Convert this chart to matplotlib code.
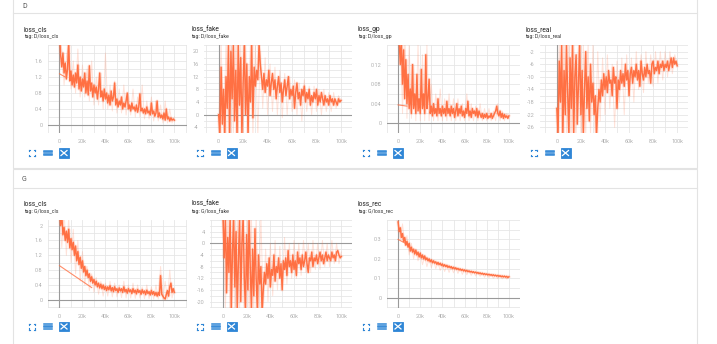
import matplotlib
matplotlib.use("Agg")
import matplotlib.pyplot as plt
from matplotlib.ticker import FixedLocator, MultipleLocator
from matplotlib.patches import Rectangle
from matplotlib.lines import Line2D

plt.rcParams['font.family'] = ['Roboto', 'DejaVu Sans']

# ---------------- data (x = training step, in thousands) ----------------
steps_k = list(range(0, 101))          # smoothed curve, every 1k steps
raw_steps_k = list(range(0, 101, 2))   # faint raw curve, every 2k steps
x_tick_labels = ["0", "20k", "40k", "60k", "80k", "100k"]

d_loss_cls = [2.3, 1.75, 1.45, 1.8, 1.3, 1.55, 1.15, 1.4, 2.1, 1.1,
              1.35, 1.0, 1.25, 0.95, 1.3, 1.05, 1.5, 0.9, 1.2, 0.85,
              1.15, 0.95, 1.3, 0.8, 1.1, 0.75, 1.48, 0.85, 1.05, 0.7,
              1.0, 0.8, 0.95, 0.65, 0.9, 1.3, 0.7, 0.85, 0.6, 0.9,
              0.65, 0.8, 0.55, 0.75, 0.5, 0.85, 0.6, 0.7, 1.05, 0.5,
              0.65, 0.45, 0.6, 0.5, 0.7, 0.4, 0.55, 0.45, 0.6, 0.8,
              0.4, 0.5, 0.35, 0.55, 0.4, 0.45, 0.35, 0.5, 0.32, 0.45,
              0.78, 0.35, 0.42, 0.3, 0.4, 0.28, 0.45, 0.3, 0.35, 0.25,
              0.55, 0.28, 0.35, 0.22, 0.3, 0.6, 0.2, 0.3, 0.18, 0.25,
              0.15, 0.3, 0.12, 0.4, 0.15, 0.2, 0.1, 0.18, 0.12, 0.15, 0.12]
d_loss_cls_raw = [2.2, 1.9, 1.0, 1.7, 2.0, 0.9, 1.6, 0.8, 1.9, 0.7,
                  1.5, 0.7, 1.4, 0.6, 1.6, 0.5, 1.2, 0.5, 1.3, 0.4,
                  1.8, 0.4, 1.0, 0.35, 1.1, 0.3, 0.9, 0.3, 1.0, 0.25,
                  0.8, 0.25, 0.9, 0.2, 0.7, 0.2, 1.0, 0.15, 0.6, 0.15,
                  0.7, 0.1, 0.6, 0.1, 0.5, 0.05, 0.6, 0.05, 0.4, 0.05, 0.2]
d_loss_cls_restart_x = [0, 5]
d_loss_cls_restart_y = [1.28, 1.2]

d_loss_fake = [0, -6.5, 15, -3, 8, -6.5, 12, 2, 22.5, -6.5,
               20, 5, 22.5, -2, 14, -6.5, 22.5, 3, 18, -6.5,
               10, 22.5, 0, 16, -6.5, 12, 4, 22.5, -1, 15,
               9, 14, 11, 22.5, 16, 12, 8, 13, 7, 11,
               9, 14, 6, 10, 13, 8, 11, 5, 9, 12,
               7, 10, 4, 8, 11, 6, 9, 12, 5, 8,
               6, 9, 2, 7, 10, 5, 7, 3, 8, 6,
               9, 4, 7, 5, 8, 3, 6, 4, 7, 5,
               8, 3, 6, 4, 7, 5, 3, 6, 4, 5,
               3, 6, 4, 5, 3, 5, 4, 3, 5, 4, 4.5]
d_loss_fake_raw = [-6.5, 22.5, -6.5, 22.5, -6.5, 22.5, -6.5, 22.5, -6.5, 22.5,
                   -6.5, 22.5, -6.5, 22.5, -6.5, 22.5, -6.5, 20, 2, 18,
                   0, 16, 1, 15, 0, 14, -1, 13, 0, 12,
                   1, 11, 0, 10, -2, 11, 1, 9, 0, 9,
                   1, 8, 0, 8, 1, 7, 1, 7, 2, 6, 4]

d_loss_gp = [0.2, 0.17, 0.12, 0.17, 0.08, 0.15, 0.05, 0.13, 0.04, 0.1,
             0.03, 0.07, 0.02, 0.12, 0.03, 0.06, 0.02, 0.1, 0.025, 0.05,
             0.02, 0.11, 0.03, 0.06, 0.02, 0.14, 0.03, 0.05, 0.09, 0.02,
             0.035, 0.015, 0.04, 0.02, 0.03, 0.015, 0.05, 0.02, 0.03, 0.015,
             0.035, 0.02, 0.03, 0.015, 0.045, 0.02, 0.03, 0.015, 0.035, 0.02,
             0.03, 0.012, 0.025, 0.04, 0.015, 0.03, 0.02, 0.035, 0.015, 0.025,
             0.012, 0.03, 0.02, 0.045, 0.015, 0.025, 0.012, 0.03, 0.02, 0.025,
             0.015, 0.03, 0.012, 0.025, 0.018, 0.012, 0.02, 0.01, 0.018, 0.012,
             0.02, 0.01, 0.015, 0.012, 0.02, 0.01, 0.015, 0.02, 0.025, 0.035,
             0.02, 0.015, 0.025, 0.012, 0.02, 0.01, 0.018, 0.012, 0.015, 0.01, 0.015]
d_loss_gp_raw = [0.2, 0.2, 0.02, 0.2, 0.01, 0.16, 0.01, 0.12, 0.005, 0.16,
                 0.005, 0.14, 0.005, 0.16, 0.005, 0.08, 0.005, 0.06, 0.005, 0.07,
                 0.005, 0.05, 0.005, 0.06, 0.005, 0.05, 0.005, 0.05, 0.005, 0.04,
                 0.005, 0.06, 0.005, 0.04, 0.005, 0.035, 0.005, 0.04, 0.005, 0.03,
                 0.005, 0.03, 0.005, 0.025, 0.005, 0.04, 0.005, 0.025, 0.005, 0.02, 0.01]
d_loss_gp_restart_x = [0, 8]
d_loss_gp_restart_y = [0.0375, 0.035]

d_loss_real = [-20, -28.5, -5, -18, 0.5, -28.5, -8, -22, 0.5, -15,
               -28.5, -4, -20, 0.5, -28.5, -10, -3, -25, -12, 0.5,
               -22, -8, -28.5, -14, -2, -20, -10, -24, -6, -18,
               -12, -22, -16, -28.5, -20, -14, -18, -11, -16, -9,
               -14, -10, -15, -8, -12, -11, -16, -7, -12, -10,
               -20, -11, -14, -8, -12, -9, -13, -6, -11, -8,
               -16, -9, -7, -12, -8, -10, -6, -11, -8, -13,
               -5, -9, -11, -7, -10, -6, -9, -8, -12, -6,
               -5, -9, -7, -8, -5, -9, -6, -7, -5, -8,
               -6, -7, -5, -8, -6, -4, -7, -4, -6, -5, -6.5]
d_loss_real_raw = [-28.5, 0.5, -28.5, 0.5, -28.5, 0.5, -28.5, 0.5, -28.5, 0.5,
                   -28.5, 0.5, -28.5, 0.5, -28.5, 0.5, -28.5, -2, -24, -4,
                   -22, -3, -20, -6, -26, -5, -18, -4, -22, -3,
                   -16, -4, -18, -2, -14, -3, -15, -2, -12, -3,
                   -13, -2, -12, -2, -11, -2, -10, -2, -9, -3, -6]

g_loss_cls = [2.4, 2.0, 2.3, 1.75, 1.95, 1.6, 1.85, 1.55, 1.9, 1.4,
              1.65, 1.35, 1.55, 1.2, 1.45, 1.05, 1.3, 0.95, 1.15, 0.85,
              1.05, 0.75, 0.9, 0.65, 0.8, 0.6, 0.7, 0.5, 0.62, 0.45,
              0.55, 0.4, 0.5, 0.35, 0.45, 0.32, 0.42, 0.3, 0.4, 0.28,
              0.36, 0.25, 0.35, 0.27, 0.38, 0.24, 0.33, 0.22, 0.35, 0.25,
              0.3, 0.2, 0.32, 0.24, 0.3, 0.2, 0.35, 0.22, 0.28, 0.18,
              0.3, 0.22, 0.27, 0.17, 0.3, 0.2, 0.26, 0.16, 0.28, 0.2,
              0.25, 0.15, 0.27, 0.18, 0.24, 0.14, 0.26, 0.17, 0.22, 0.13,
              0.25, 0.15, 0.22, 0.12, 0.2, 0.1, 0.2, 0.12, 0.65, 0.15,
              0.1, 0.05, 0.02, 0.15, 0.25, 0.1, 0.35, 0.45, 0.2, 0.3, 0.2]
g_loss_cls_raw = [2.4, 1.4, 2.4, 1.2, 2.2, 1.0, 1.9, 0.7, 1.6, 0.5,
                  1.3, 0.4, 0.9, 0.25, 0.7, 0.2, 0.6, 0.15, 0.5, 0.1,
                  0.45, 0.1, 0.5, 0.08, 0.45, 0.08, 0.4, 0.06, 0.5, 0.05,
                  0.4, 0.05, 0.45, 0.04, 0.4, 0.05, 0.35, 0.03, 0.4, 0.03,
                  0.35, 0.02, 0.4, 0.02, 0.9, 0.0, 0.5, 0.02, 0.8, 0.05, 0.3]
g_loss_cls_restart_x = [0, 28]
g_loss_cls_restart_y = [0.92, 0.33]

g_loss_fake = [9, -5, 9, -17, 2, -10, 9, -23, -3, 9,
               -15, 4, -23, -6, 9, -20, 0, 9, -12, -23,
               3, -16, 9, -8, -23, -2, -18, 5, -12, -23,
               -4, -14, -8, -23, -16, -10, -14, -7, -12, -5,
               -15, -9, -11, -4, -13, -8, -10, -5, -12, -7,
               -16, -6, -9, -5, -11, -2.5, -8, -6, -10, -4,
               -9, -6, -11, -3, -7, -5, -9, -4, -8, -6,
               -3, -7, -10, -5, -6, -3, -8, -5, -6, -4,
               -7, -5, -3, -6, -4, -7, -5, -3, -6, -4,
               -5, -6, -3, -5, -4, -6, -3, -2.5, -4, -5, -4.5]
g_loss_fake_raw = [9, -23, 9, -23, 9, -23, 9, -23, 9, -23,
                   9, -23, 9, -23, 9, -23, 9, -22, -2, -20,
                   0, -18, 1, -16, -1, -15, 2, -14, 0, -12,
                   1, -12, 0, -11, 1, -10, 0, -10, 1, -9,
                   0, -9, 1, -8, 0, -8, 1, -7, 0, -7, -3]

g_loss_rec = [0.39, 0.34, 0.36, 0.31, 0.33, 0.29, 0.31, 0.27, 0.29, 0.26,
              0.28, 0.24, 0.26, 0.235, 0.25, 0.225, 0.245, 0.22, 0.235, 0.21,
              0.23, 0.205, 0.22, 0.2, 0.215, 0.195, 0.205, 0.19, 0.2, 0.185,
              0.195, 0.18, 0.19, 0.178, 0.185, 0.172, 0.182, 0.17, 0.178, 0.166,
              0.174, 0.162, 0.17, 0.16, 0.167, 0.156, 0.163, 0.154, 0.16, 0.15,
              0.157, 0.148, 0.154, 0.146, 0.151, 0.143, 0.148, 0.141, 0.146, 0.138,
              0.143, 0.136, 0.141, 0.134, 0.138, 0.132, 0.136, 0.13, 0.134, 0.128,
              0.132, 0.126, 0.13, 0.124, 0.128, 0.122, 0.126, 0.12, 0.124, 0.119,
              0.122, 0.117, 0.121, 0.116, 0.119, 0.114, 0.118, 0.113, 0.116, 0.111,
              0.115, 0.11, 0.113, 0.108, 0.112, 0.107, 0.111, 0.106, 0.11, 0.104, 0.108]
g_loss_rec_raw = [0.4, 0.3, 0.38, 0.27, 0.32, 0.22, 0.28, 0.2, 0.25, 0.19,
                  0.23, 0.17, 0.21, 0.16, 0.2, 0.155, 0.19, 0.15, 0.18, 0.14,
                  0.17, 0.135, 0.165, 0.13, 0.16, 0.128, 0.155, 0.125, 0.15, 0.12,
                  0.145, 0.118, 0.14, 0.115, 0.135, 0.112, 0.13, 0.11, 0.128, 0.105,
                  0.125, 0.103, 0.12, 0.1, 0.118, 0.098, 0.116, 0.097, 0.114, 0.096, 0.105]
g_loss_rec_restart_x = [0, 10]
g_loss_rec_restart_y = [0.3, 0.27]

# ---------------- figure ----------------
W, H = 717, 344
fig = plt.figure(figsize=(W / 100, H / 100), dpi=100)
fig.patch.set_facecolor('white')

LINE = '#ff7043'
BLUE = '#2f86d6'
BORDER = '#e3e3e3'


def fx(px):
    return px / W


def fy(py):
    return 1 - py / H


# section cards
for top, hdr, bottom, label in [(-2, 13, 168, 'D'), (169, 188, 360, 'G')]:
    fig.patches.append(Rectangle((fx(13), fy(bottom)), fx(697 - 13), (bottom - top) / H,
                                 transform=fig.transFigure, facecolor='none',
                                 edgecolor=BORDER, linewidth=0.8, zorder=-5))
    fig.lines.append(Line2D([fx(13), fx(697)], [fy(hdr), fy(hdr)], transform=fig.transFigure,
                            color=BORDER, linewidth=0.8, zorder=-5))
    fig.text(fx(22), fy((top + hdr) / 2 + 1), label, fontsize=5, color='#555555',
             va='center', ha='left')


def icons(x0, yc):
    # fullscreen icon (corner brackets)
    s = 3.0
    cx = x0 + 8
    for dx in (-1, 1):
        for dy in (-1, 1):
            xa = cx + dx * s
            ya = yc + dy * s
            fig.lines.append(Line2D([fx(xa), fx(xa - dx * 1.3)], [fy(ya), fy(ya)],
                                    transform=fig.transFigure, color=BLUE, lw=0.8))
            fig.lines.append(Line2D([fx(xa), fx(xa)], [fy(ya), fy(ya - dy * 1.3)],
                                    transform=fig.transFigure, color=BLUE, lw=0.8))
    # list icon
    cx = x0 + 24
    for dy in (-2.4, -0.8, 0.8, 2.4):
        fig.lines.append(Line2D([fx(cx - 4), fx(cx + 4)], [fy(yc + dy), fy(yc + dy)],
                                transform=fig.transFigure, color=BLUE, lw=1.1))
    # fit-domain icon
    cx = x0 + 40
    fig.patches.append(Rectangle((fx(cx - 5), fy(yc + 4.5)), 10 / W, 9 / H,
                                 transform=fig.transFigure, facecolor=BLUE,
                                 edgecolor=BLUE, lw=0.6))
    for a, b in [((-3, -2.5), (3, 2.5)), ((-3, 2.5), (3, -2.5))]:
        fig.lines.append(Line2D([fx(cx + a[0]), fx(cx + b[0])], [fy(yc + a[1]), fy(yc + b[1])],
                                transform=fig.transFigure, color='white', lw=0.9))


def chart(box, ys, raw, xlim, ylim, yticks, yminor, ylabels, restart=None, zero_h=True):
    l, r, t, b = box
    ax = fig.add_axes([fx(l), fy(b), (r - l) / W, (b - t) / H])
    ax.patch.set_alpha(0)
    xs = [k * 1000 for k in steps_k]
    ax.plot([k * 1000 for k in raw_steps_k], raw, color=LINE, lw=0.7, alpha=0.2, zorder=2)
    ax.plot(xs, ys, color=LINE, lw=2.4, alpha=0.15, zorder=2)
    ax.plot(xs, ys, color=LINE, lw=1.05, zorder=3)
    if restart is not None:
        rx, ry = restart
        ax.plot([k * 1000 for k in rx], ry, color=LINE, lw=0.8, alpha=0.8, zorder=3)
    ax.set_xlim(*xlim)
    ax.set_ylim(*ylim)
    ax.xaxis.set_major_locator(FixedLocator([0, 20000, 40000, 60000, 80000, 100000]))
    ax.set_xticklabels(x_tick_labels)
    ax.xaxis.set_minor_locator(MultipleLocator(10000))
    ax.yaxis.set_major_locator(FixedLocator(yticks))
    ax.set_yticklabels(ylabels)
    ax.yaxis.set_minor_locator(MultipleLocator(yminor))
    ax.grid(True, which='both', color='#e6e6e6', lw=0.6, zorder=0)
    ax.set_axisbelow(True)
    if zero_h:
        ax.axhline(0, color='#9a9a9a', lw=0.8, zorder=1)
    ax.axvline(0, color='#9a9a9a', lw=0.8, zorder=1)
    for sp in ax.spines.values():
        sp.set_visible(False)
    ax.tick_params(which='both', length=0, labelsize=4, colors='#b0b0b0')
    ax.tick_params(axis='x', pad=4.5)
    ax.tick_params(axis='y', pad=4.0)
    return ax


def card(x_title, y_title, title, tag, icon_y):
    fig.text(fx(x_title), fy(y_title), title, fontsize=4.8, color='#212121', va='center', ha='left')
    fig.text(fx(x_title), fy(y_title + 7), tag, fontsize=3.8, color='#333333', va='center', ha='left')
    icons(x_title, icon_y)


# D row
chart((48, 187, 45, 133), d_loss_cls, d_loss_cls_raw,
      (-10000, 111000), (-0.2, 2.0), [0, 0.4, 0.8, 1.2, 1.6], 0.2,
      ['0', '0.4', '0.8', '1.2', '1.6'], (d_loss_cls_restart_x, d_loss_cls_restart_y))
card(24, 29.5, 'loss_cls', 'tag: D/loss_cls', 153)

chart((204, 352, 45, 133), d_loss_fake, d_loss_fake_raw,
      (-12000, 109000), (-5.8, 22), [-4, 0, 4, 8, 12, 16, 20], 2,
      ['-4', '0', '4', '8', '12', '16', '20'])
card(191.5, 29.5, 'loss_fake', 'tag: D/loss_fake', 153)

chart((387, 520, 45, 133), d_loss_gp, d_loss_gp_raw,
      (-10000, 110000), (-0.02, 0.16), [0, 0.04, 0.08, 0.12], 0.02,
      ['0', '0.04', '0.08', '0.12'], (d_loss_gp_restart_x, d_loss_gp_restart_y))
card(358, 29.5, 'loss_gp', 'tag: D/loss_gp', 153)

chart((540, 688, 45, 133), d_loss_real, d_loss_real_raw,
      (-14000, 109000), (-27.8, 0.1), [-26, -22, -18, -14, -10, -6, -2], 2,
      ['-26', '-22', '-18', '-14', '-10', '-6', '-2'], zero_h=False)
card(525.5, 29.5, 'loss_real', 'tag: D/loss_real', 153)

# G row
chart((48, 187, 220, 308), g_loss_cls, g_loss_cls_raw,
      (-10000, 111000), (-0.22, 2.15), [0, 0.4, 0.8, 1.2, 1.6, 2.0], 0.2,
      ['0', '0.4', '0.8', '1.2', '1.6', '2'], (g_loss_cls_restart_x, g_loss_cls_restart_y))
card(24, 204, 'loss_cls', 'tag: G/loss_cls', 326.5)

chart((210, 352, 220, 308), g_loss_fake, g_loss_fake_raw,
      (-11000, 109000), (-22.2, 8), [-20, -16, -12, -8, -4, 0, 4], 2,
      ['-20', '-16', '-12', '-8', '-4', '0', '4'])
card(191.5, 204, 'loss_fake', 'tag: G/loss_fake', 326.5)

chart((387, 520, 220, 308), g_loss_rec, g_loss_rec_raw,
      (-10000, 110000), (-0.053, 0.4), [0, 0.1, 0.2, 0.3], 0.05,
      ['0', '0.1', '0.2', '0.3'], (g_loss_rec_restart_x, g_loss_rec_restart_y))
card(358, 204, 'loss_rec', 'tag: G/loss_rec', 326.5)

fig.savefig('out.png', dpi=100, facecolor='white')
